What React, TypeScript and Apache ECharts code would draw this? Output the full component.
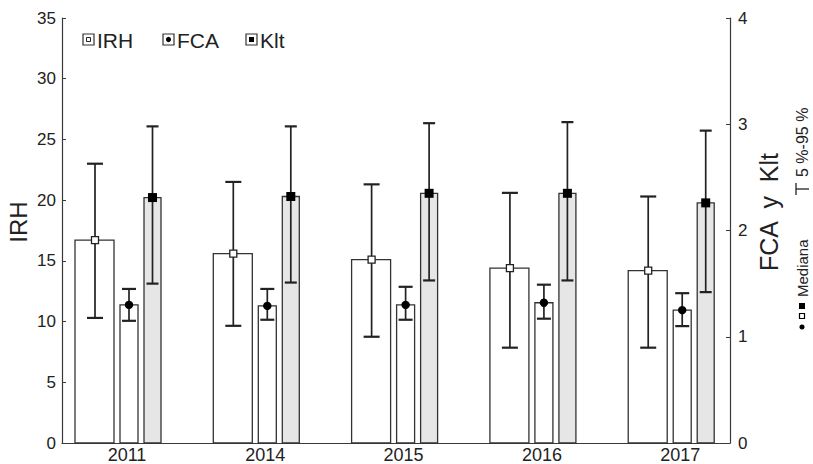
import React, { useEffect, useRef } from 'react';
import * as echarts from 'echarts';

const years = ['2011', '2014', '2015', '2016', '2017'];
const irhMedian = [16.7, 15.6, 15.1, 14.4, 14.2];
const irhP5 = [10.3, 9.65, 8.75, 7.85, 7.85];
const irhP95 = [23.0, 21.5, 21.3, 20.6, 20.3];
const fcaMedian = [1.3, 1.29, 1.3, 1.32, 1.25];
const fcaP5 = [1.15, 1.16, 1.16, 1.17, 1.1];
const fcaP95 = [1.45, 1.45, 1.47, 1.49, 1.41];
const kltMedian = [2.31, 2.32, 2.35, 2.35, 2.26];
const kltP5 = [1.5, 1.51, 1.53, 1.53, 1.42];
const kltP95 = [2.98, 2.98, 3.01, 3.02, 2.94];
const leftTicks = { min: 0, max: 35, interval: 5 };
const rightTicks = { min: 0, max: 4, interval: 1 };

const FONT = "'Liberation Sans', Arial, sans-serif";
const INK = '#222';
const AX = '#3a3a3a';

type Cfg = { left: number; width: number; errX: number; cap: number; fill: string; marker: 'hollow' | 'dot' | 'square' };

function makeSeries(name: string, med: number[], lo: number[], hi: number[], yAxisIndex: number, cfg: Cfg) {
  return {
    type: 'custom',
    name,
    xAxisIndex: 0,
    yAxisIndex,
    clip: false,
    data: med.map((m, i) => [i + 1, m, lo[i], hi[i]]),
    encode: { x: 0, y: [1, 2, 3] },
    renderItem: (_p: any, api: any) => {
      const xv = api.value(0);
      const m = api.value(1);
      const l = api.value(2);
      const h = api.value(3);
      const [cx, ym] = api.coord([xv, m]);
      const y0 = api.coord([xv, 0])[1];
      const yl = api.coord([xv, l])[1];
      const yh = api.coord([xv, h])[1];
      const ex = cx + cfg.errX;
      let marker: any;
      if (cfg.marker === 'hollow') {
        marker = { type: 'rect', shape: { x: ex - 3.5, y: ym - 3.5, width: 7, height: 7 }, style: { fill: '#fff', stroke: INK, lineWidth: 1.3 } };
      } else if (cfg.marker === 'dot') {
        marker = { type: 'circle', shape: { cx: ex, cy: ym, r: 4.2 }, style: { fill: '#000' } };
      } else {
        marker = { type: 'rect', shape: { x: ex - 4.5, y: ym - 4.5, width: 9, height: 9 }, style: { fill: '#000' } };
      }
      return {
        type: 'group',
        children: [
          { type: 'rect', shape: { x: cx + cfg.left, y: ym, width: cfg.width, height: y0 - ym }, style: { fill: cfg.fill, stroke: '#333', lineWidth: 1.3 } },
          { type: 'line', shape: { x1: ex, y1: yl, x2: ex, y2: yh }, style: { stroke: INK, lineWidth: 1.7 } },
          { type: 'line', shape: { x1: ex - cfg.cap / 2, y1: yh, x2: ex + cfg.cap / 2, y2: yh }, style: { stroke: INK, lineWidth: 2.2 } },
          { type: 'line', shape: { x1: ex - cfg.cap / 2, y1: yl, x2: ex + cfg.cap / 2, y2: yl }, style: { stroke: INK, lineWidth: 2.2 } },
          marker,
        ],
      };
    },
  };
}

export default function App() {
  const ref = useRef<HTMLDivElement>(null);
  useEffect(() => {
    const chart = echarts.init(ref.current!, null, { renderer: 'svg' });
    const axisCommon = {
      axisLine: { show: true, lineStyle: { color: AX, width: 1.2 } },
      axisTick: { show: true, inside: true, length: 4, lineStyle: { color: AX } },
      splitLine: { show: false },
      axisLabel: { fontSize: 17, color: INK, fontFamily: FONT },
    };
    const legendX = [83, 163, 246];
    const legendText = ['IRH', 'FCA', 'Klt'];
    const legendEls: any[] = [];
    legendX.forEach((lx, i) => {
      legendEls.push({ type: 'rect', shape: { x: lx, y: 34, width: 11, height: 11 }, style: { fill: '#fff', stroke: '#333', lineWidth: 1.2 } });
      if (i === 0) legendEls.push({ type: 'rect', shape: { x: lx + 3.5, y: 37.5, width: 4, height: 4 }, style: { fill: '#fff', stroke: '#222', lineWidth: 1 } });
      if (i === 1) legendEls.push({ type: 'circle', shape: { cx: lx + 5.5, cy: 39.5, r: 2.6 }, style: { fill: '#000' } });
      if (i === 2) legendEls.push({ type: 'rect', shape: { x: lx + 3, y: 37, width: 5, height: 5 }, style: { fill: '#000' } });
      legendEls.push({ type: 'text', x: lx + 14, y: 40, style: { text: legendText[i], font: `21px ${FONT}`, fill: INK, verticalAlign: 'middle', align: 'left' } });
    });
    chart.setOption({
      animation: false,
      grid: { left: 62, right: 83, top: 18, bottom: 18 },
      xAxis: {
        type: 'value',
        min: 0.53,
        max: 5.36,
        axisLine: { show: true, onZero: false, lineStyle: { color: AX, width: 1.2 } },
        axisTick: { show: true, inside: true, length: 3, customValues: [1, 2, 3, 4, 5], lineStyle: { color: AX } },
        axisLabel: { fontSize: 18, color: INK, fontFamily: FONT, margin: 3, customValues: [1, 2, 3, 4, 5], formatter: (v: number) => years[Math.round(v) - 1] ?? '' },
        splitLine: { show: false },
      },
      yAxis: [
        { type: 'value', position: 'left', ...leftTicks, ...axisCommon, axisLabel: { ...axisCommon.axisLabel, margin: 6 } },
        { type: 'value', position: 'right', ...rightTicks, ...axisCommon, axisLabel: { ...axisCommon.axisLabel, margin: 8 } },
      ],
      series: [
        makeSeries('IRH', irhMedian, irhP5, irhP95, 0, { left: -52, width: 39, errX: -32, cap: 16, fill: '#fff', marker: 'hollow' }),
        makeSeries('FCA', fcaMedian, fcaP5, fcaP95, 1, { left: -7, width: 18, errX: 2, cap: 14, fill: '#fff', marker: 'dot' }),
        makeSeries('Klt', kltMedian, kltP5, kltP95, 1, { left: 17, width: 17, errX: 25.5, cap: 12, fill: '#e6e6e6', marker: 'square' }),
      ],
      graphic: [
        ...legendEls,
        { type: 'text', x: 18, y: 222, rotation: Math.PI / 2, style: { text: 'IRH', font: `24px ${FONT}`, fill: INK, align: 'center', verticalAlign: 'middle' } },
        { type: 'text', x: 769, y: 212, rotation: Math.PI / 2, style: { text: 'FCA  y  Klt', font: `25px ${FONT}`, fill: INK, align: 'center', verticalAlign: 'middle' } },
        {
          type: 'group',
          x: 802,
          y: 332,
          rotation: Math.PI / 2,
          children: [
            { type: 'circle', shape: { cx: 5, cy: 0, r: 2.6 }, style: { fill: '#000' } },
            { type: 'rect', shape: { x: 13.5, y: -2.5, width: 5, height: 5 }, style: { fill: '#fff', stroke: '#000', lineWidth: 1.2 } },
            { type: 'rect', shape: { x: 23, y: -3, width: 6, height: 6 }, style: { fill: '#000' } },
            { type: 'text', x: 35, y: 0, style: { text: 'Mediana', font: `15px ${FONT}`, fill: INK, verticalAlign: 'middle', align: 'left' } },
            { type: 'line', shape: { x1: 143, y1: -6, x2: 143, y2: 7 }, style: { stroke: INK, lineWidth: 1.3 } },
            { type: 'line', shape: { x1: 137, y1: -6, x2: 149, y2: -6 }, style: { stroke: INK, lineWidth: 1.3 } },
            { type: 'text', x: 155, y: 0, style: { text: '5 %-95 %', font: `16px ${FONT}`, fill: INK, verticalAlign: 'middle', align: 'left' } },
          ],
        },
      ],
    });
    return () => chart.dispose();
  }, []);
  return <div ref={ref} style={{ position: 'fixed', left: 0, top: 0, width: 813, height: 464, background: '#fff' }} />;
}
